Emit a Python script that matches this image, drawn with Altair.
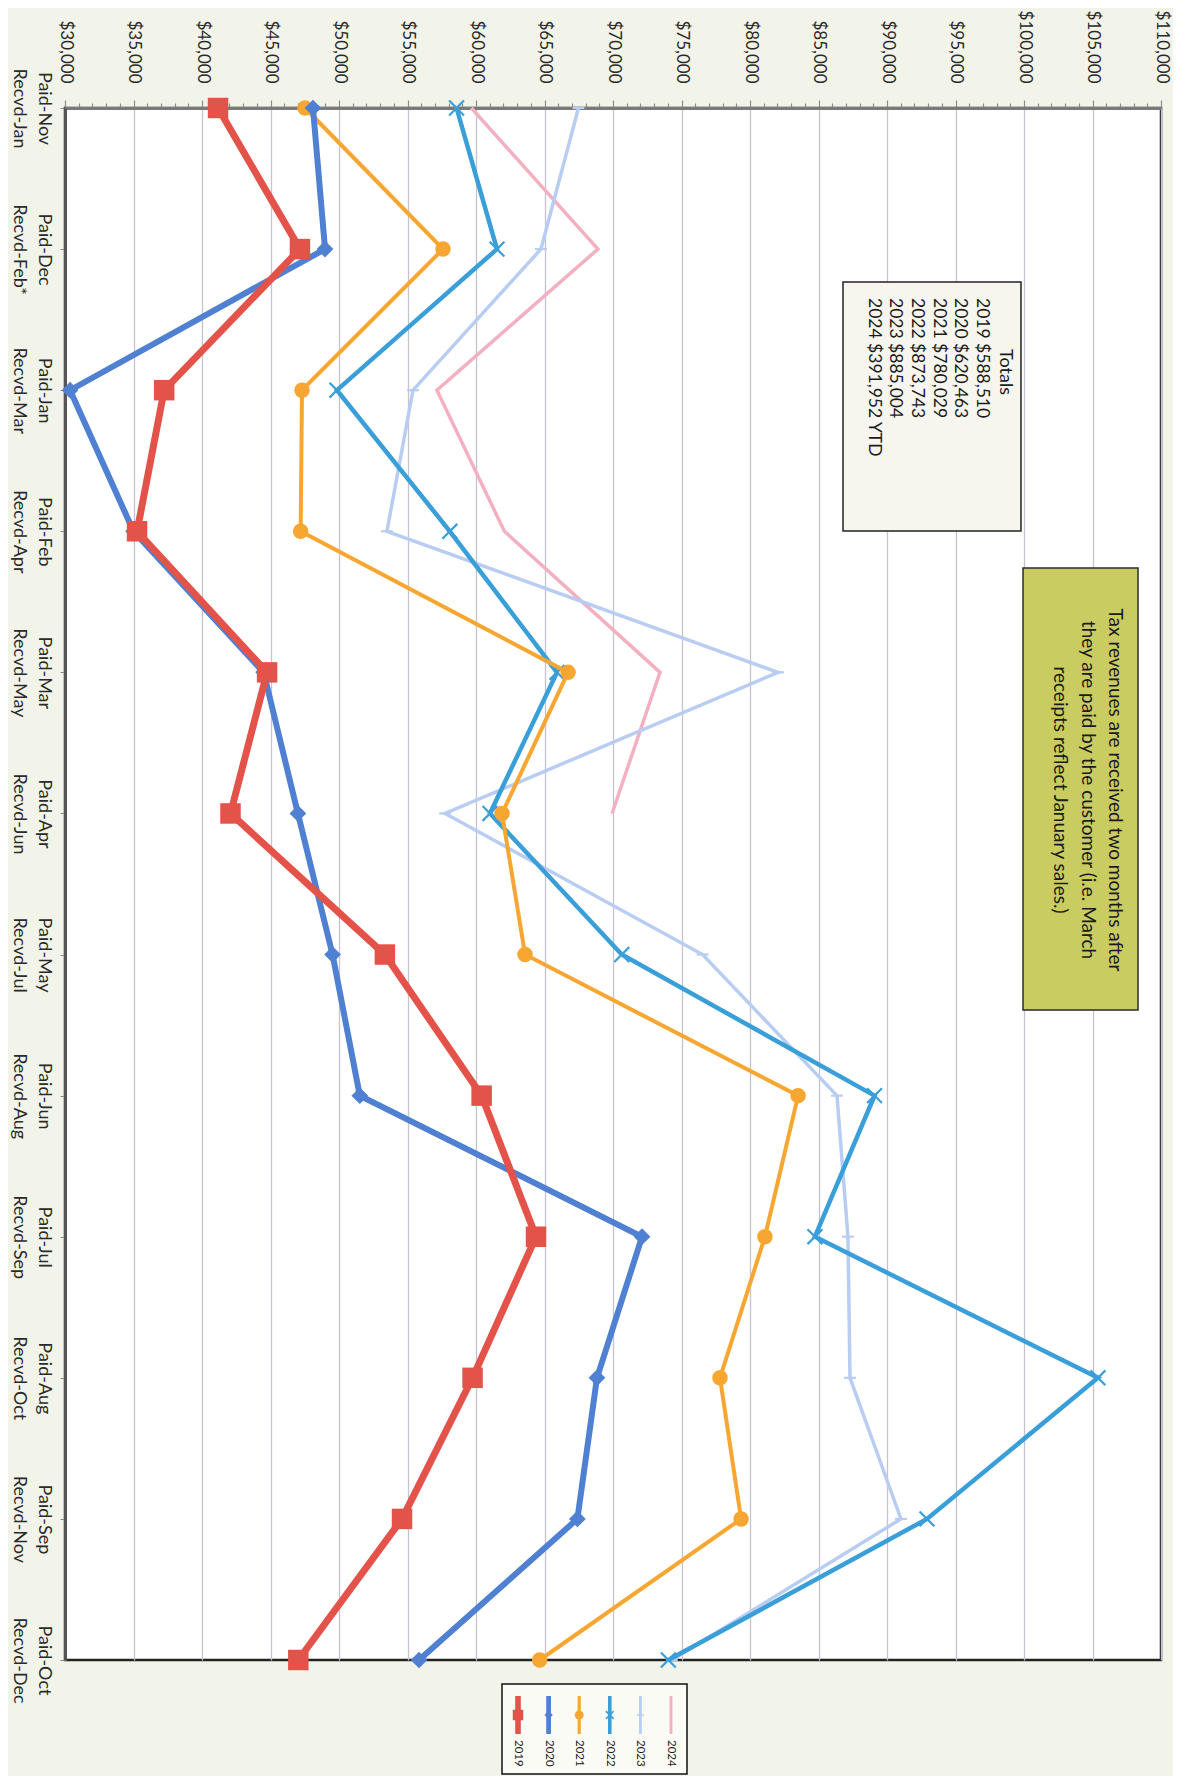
import altair as alt
import pandas as pd

paid = ["Paid-Nov", "Paid-Dec", "Paid-Jan", "Paid-Feb", "Paid-Mar", "Paid-Apr",
        "Paid-May", "Paid-Jun", "Paid-Jul", "Paid-Aug", "Paid-Sep", "Paid-Oct"]
recvd = ["Recvd-Jan", "Recvd-Feb*", "Recvd-Mar", "Recvd-Apr", "Recvd-May", "Recvd-Jun",
         "Recvd-Jul", "Recvd-Aug", "Recvd-Sep", "Recvd-Oct", "Recvd-Nov", "Recvd-Dec"]
years = ["2019", "2020", "2021", "2022", "2023", "2024"]

v2019 = [41170, 47150, 37240, 35260, 44750, 42080, 53350, 60410, 64380, 59750, 54600, 47030]
v2020 = [48100, 48980, 30370, 35000, 44500, 47000, 49530, 51520, 72120, 68830, 67400, 55840]
v2021 = [47520, 57590, 47300, 47200, 66720, 61900, 63580, 83510, 81090, 77810, 79350, 64650]
v2022 = [58580, 61530, 49850, 58090, 65910, 61020, 70640, 89090, 84740, 105400, 92920, 74040]
v2023 = [67480, 64740, 55400, 53500, 82050, 57740, 76540, 86350, 87150, 87300, 91020, 74290]
v2024 = [59660, 68900, 57150, 62070, 73430, 69930]

totals_title = "Totals"
totals_lines = ["2019  $588,510", "2020  $620,463", "2021  $780,029",
                "2022  $873,743", "2023  $885,004", "2024  $391,952 YTD"]
note_lines = ["Tax revenues are received two months after",
              "they are paid by the customer (i.e. March",
              "receipts reflect January sales.)"]

series = [v2019, v2020, v2021, v2022, v2023, v2024]
cats = [p + " " + r for p, r in zip(paid, recvd)]

rows = []
for yr, vals in zip(years, series):
    for i, v in enumerate(vals):
        rows.append({"year": yr, "idx": i, "cat": cats[i], "value": v})
df = pd.DataFrame(rows)

XPATH = "M-1,-1L1,1M-1,1L1,-1"
DASH = "M-1,0L1,0"
styles = {
    "2019": dict(color="#e4534a", width=7, shape="square", size=420, filled=True, lsize=110),
    "2020": dict(color="#4f80d2", width=6, shape="diamond", size=280, filled=True, lsize=70),
    "2021": dict(color="#f7a631", width=4, shape="circle", size=240, filled=True, lsize=80),
    "2022": dict(color="#3a9fd9", width=4.5, shape=XPATH, size=220, filled=False, lsize=60),
    "2023": dict(color="#b8cdf1", width=3.5, shape=DASH, size=140, filled=False, lsize=50),
    "2024": dict(color="#f3b0c1", width=3.5, shape=None, size=0, filled=False, lsize=0),
}

FONT = "Lato"
xscale = alt.Scale(domain=[30000, 110000], nice=False, zero=False)
yscale = alt.Scale(type="point", domain=cats, padding=0)

xaxis = alt.Axis(
    orient="top", title=None,
    values=list(range(30000, 110001, 1000)),
    labelExpr="datum.value % 5000 === 0 ? format(datum.value, '$,') : ''",
    labelAngle=90, labelAlign="right", labelBaseline="middle",
    labelFont=FONT, labelFontSize=17, labelColor="#2a2a2a",
    labelPadding=17, labelOverlap=False, labelFlush=False, labelBound=False,
    tickSize={"condition": {"test": "datum.value % 5000 === 0", "value": 8}, "value": 5},
    tickColor="#8a8a8a", tickWidth=1.2,
    grid=True,
    gridOpacity={"condition": {"test": "datum.value % 5000 === 0", "value": 1}, "value": 0},
    gridColor="#c4c4d0", gridWidth=1.3,
    domainColor="#7a7a7a", domainWidth=3,
)
yaxis = alt.Axis(
    orient="left", title=None,
    labelExpr="split(datum.label, ' ')",
    labelAngle=90, labelAlign="center", labelBaseline="top",
    labelFont=FONT, labelFontSize=18, labelColor="#2a2a2a", labelLineHeight=25,
    labelPadding=8, tickSize=5, tickColor="#888888",
    grid=False, domainColor="#555555", domainWidth=3,
)

xenc = alt.X("value:Q", scale=xscale, axis=xaxis)
yenc = alt.Y("cat:N", scale=yscale, sort=cats, axis=yaxis)

layers = []
for yr in reversed(years):
    st = styles[yr]
    d = df[df.year == yr]
    base = alt.Chart(d)
    layers.append(base.mark_line(color=st["color"], strokeWidth=st["width"]).encode(
        x=xenc, y=yenc, order="idx:Q"))
    if st["shape"]:
        if st["filled"]:
            pm = base.mark_point(shape=st["shape"], size=st["size"], filled=True,
                                 color=st["color"], opacity=1)
        else:
            pm = base.mark_point(shape=st["shape"], size=st["size"], filled=False,
                                 color=st["color"], strokeWidth=2.2, opacity=1)
        layers.append(pm.encode(x=xenc, y=yenc))

one = pd.DataFrame({"k": [0]})
ann = alt.Chart(one)

# Totals box
layers.append(ann.mark_rect(fill="#f6f6ee", stroke="#222222", strokeWidth=1.5).encode(
    x=alt.value(778), x2=alt.value(956), y=alt.value(174), y2=alt.value(423)))
layers.append(ann.mark_text(text=totals_title, angle=90, align="center", baseline="middle",
                            font=FONT, fontSize=18, color="#1a1a1a").encode(
    x=alt.value(940), y=alt.value(264)))
layers.append(ann.mark_text(text=totals_lines, angle=90, align="left", baseline="middle",
                            lineHeight=21.7, font=FONT, fontSize=17.5, color="#1a1a1a").encode(
    x=alt.value(917), y=alt.value(190)))

# Note box
layers.append(ann.mark_rect(fill="#c9cc60", stroke="#2a2a2a", strokeWidth=1.5).encode(
    x=alt.value(958), x2=alt.value(1073), y=alt.value(460), y2=alt.value(902)))
layers.append(ann.mark_text(text=note_lines, angle=90, align="center", baseline="middle",
                            lineHeight=27.5, font=FONT, fontSize=19, color="#1a1a1a").encode(
    x=alt.value(1050), y=alt.value(682)))

# Custom rotated legend
layers.append(ann.mark_rect(fill="#fbfbf6", stroke="#111111", strokeWidth=1.5).encode(
    x=alt.value(437), x2=alt.value(622), y=alt.value(1576), y2=alt.value(1666)))
for i, yr in enumerate(years):
    st = styles[yr]
    lx = 453 + i * 30.6
    layers.append(ann.mark_rule(color=st["color"], strokeWidth=st["width"] * 0.8).encode(
        x=alt.value(lx), y=alt.value(1588), y2=alt.value(1626)))
    if st["shape"]:
        layers.append(ann.mark_point(shape=st["shape"], size=st["lsize"], filled=st["filled"],
                                     color=st["color"], opacity=1, strokeWidth=1.5).encode(
            x=alt.value(lx), y=alt.value(1607)))
    layers.append(ann.mark_text(text=yr, angle=90, align="left", baseline="middle",
                                font=FONT, fontSize=11.5, color="#1a1a1a").encode(
        x=alt.value(lx), y=alt.value(1632)))

chart = alt.layer(*layers).properties(
    width=1096, height=1552,
    autosize=alt.AutoSizeParams(type="none"),
    padding={"left": 57, "top": 100, "right": 12, "bottom": 116},
    background="#f3f4e9",
).configure_view(fill="#ffffff", stroke="#222222", strokeWidth=2.5)

chart.save("out.html", embed_options={"renderer": "svg", "actions": False})
